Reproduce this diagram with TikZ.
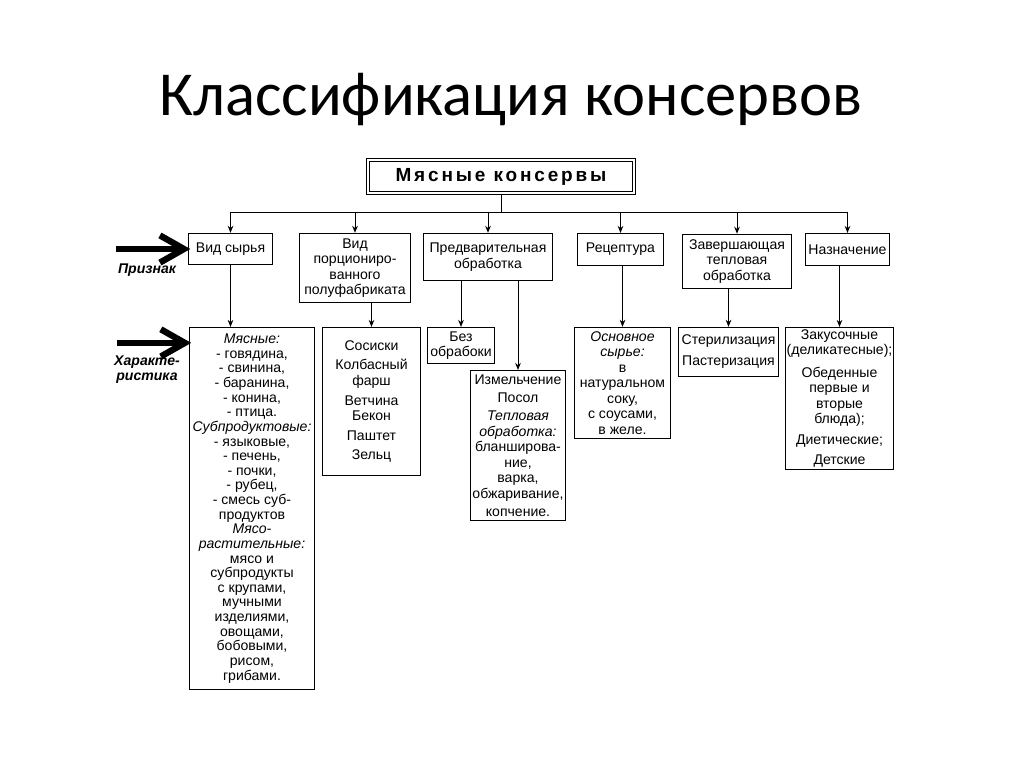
\documentclass[tikz,border=0pt]{standalone}
\usepackage{fontspec}
\setmainfont{Liberation Sans}
\newfontfamily\titlefont{Carlito}
\usetikzlibrary{arrows.meta}

\begin{document}
\begin{tikzpicture}[x=0.025cm, y=-0.025cm,
  box/.style={draw, line width=0.8pt, align=center, inner sep=1pt, font=\fontsize{10}{11}\selectfont},
  down/.style={-{Stealth[length=5pt,width=4pt]}, line width=0.7pt},
  fat/.style={line width=4.5pt},
  sign/.style={font=\fontsize{10}{10.5}\selectfont\bfseries\itshape, align=center}]
\useasboundingbox (0,0) rectangle (1024,767);
\node[font=\titlefont\fontsize{44.5}{50}\selectfont] (title) at (511,100) {Классификация консервов};
% the head of the tree, with its double frame
\node[draw, double, double distance=1.2pt, line width=0.9pt, minimum width=6.65cm, minimum height=0.82cm,
  font=\fontsize{13.5}{13.5}\selectfont\bfseries\addfontfeature{LetterSpace=15}] (main) at (501,176.5) {Мясные консервы};
% first row: the signs
\node[box, minimum width=2.1cm, minimum height=0.78cm] (sort) at (230.5,249) {Вид сырья};
\node[box, minimum width=2.78cm, minimum height=1.73cm] (porcion) at (355,268) {Вид\\порциониро-\\ванного\\полуфабриката};
\node[box, minimum width=3.23cm, minimum height=1.18cm] (prep) at (488,257) {Предварительная\\обработка};
\node[box, minimum width=2.15cm, minimum height=0.8cm] (recipe) at (620.5,249.5) {Рецептура};
\node[box, minimum width=2.72cm, minimum height=1.36cm] (finish) at (737,261.5) {Завершающая\\тепловая\\обработка};
\node[box, minimum width=2.1cm, minimum height=0.8cm] (purpose) at (847.5,249.5) {Назначение};
% second row: what each sign covers
\node[box, font=\fontsize{10}{10.4}\selectfont, minimum width=3.13cm, minimum height=9.05cm] (sortlist) at (252,508.5)
  {\textit{Мясные:}\\- говядина,\\- свинина,\\- баранина,\\- конина,\\- птица.\\\textit{Субпродуктовые:}\\- языковые,\\- печень,\\- почки,\\- рубец,\\- смесь суб-\\продуктов\\\textit{Мясо-}\\\textit{растительные:}\\мясо и\\субпродукты\\с крупами,\\мучными\\изделиями,\\овощами,\\бобовыми,\\рисом,\\грибами.};
\node[box, minimum width=2.45cm, minimum height=3.7cm] (porclist) at (371.5,401.5)
  {Сосиски\\[3pt]Колбасный\\фарш\\[3pt]Ветчина\\Бекон\\[3pt]Паштет\\[3pt]Зельц};
\node[box, minimum width=1.68cm, minimum height=0.9cm] (noprep) at (461,345.5) {Без\\обрабоки};
\node[box, minimum width=2.38cm, minimum height=3.75cm] (preplist) at (518,445.5)
  {Измельчение\\[2pt]Посол\\[2pt]\textit{Тепловая}\\\textit{обработка:}\\бланширова-\\ние,\\варка,\\обжаривание,\\[2pt]копчение.};
\node[box, minimum width=2.4cm, minimum height=2.78cm] (reclist) at (622.5,383)
  {\textit{Основное}\\\textit{сырье:}\\в\\натуральном\\соку,\\с соусами,\\в желе.};
\node[box, minimum width=2.5cm, minimum height=1.23cm] (finlist) at (728.5,352) {Стерилизация\\[4pt]Пастеризация};
\node[box, minimum width=2.6cm, minimum height=3.55cm] (purplist) at (839.5,398.5)
  {Закусочные\\(деликатесные);\\[5pt]Обеденные\\первые и\\вторые\\блюда);\\[4pt]Диетические;\\[3pt]Детские};
% the bus under the head
\coordinate (bus) at (0,212);
\draw[line width=0.7pt] (main.south) -- (main.south |- bus);
\draw[line width=0.7pt] (sort.north |- bus) -- (purpose.north |- bus);
\foreach \n in {sort,porcion,prep,recipe,finish,purpose}
  \draw[down] (\n.north |- bus) -- (\n.north);
% drops to the second row
\draw[down] (sort.south) -- (sort.south |- sortlist.north);
\draw[down] (porclist |- porcion.south) -- (porclist.north);
\draw[down] (noprep |- prep.south) -- (noprep.north);
\draw[down] (preplist |- prep.south) -- (preplist.north);
\draw[down] (reclist |- recipe.south) -- (reclist.north);
\draw[down] (finlist |- finish.south) -- (finlist.north);
\draw[down] (purplist |- purpose.south) -- (purplist.north);
% the two fat pointers on the left
\coordinate (tip1) at ([xshift=-0.1cm]sort.west);
\coordinate (tip2) at ([xshift=-0.1cm,yshift=-0.4cm]sortlist.north west);
\foreach \t in {tip1,tip2} {
  \draw[fat] ([xshift=-1.7cm]\t) -- (\t);
  \draw[fat, line join=miter] ([xshift=-0.6cm,yshift=0.34cm]\t) -- (\t) -- ([xshift=-0.6cm,yshift=-0.34cm]\t);
}
\node[sign] (sign) at (147,270) {Признак};
\node[sign] (feat) at (147,370) {Характе-\\ристика};
\end{tikzpicture}
\end{document}
